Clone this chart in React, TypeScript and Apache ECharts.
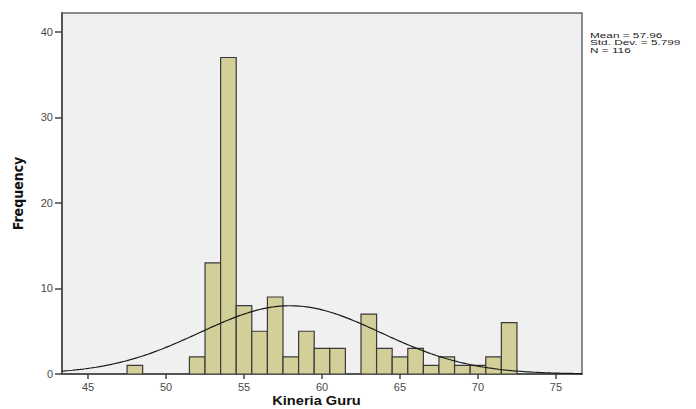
import React, { useEffect, useRef } from "react";
import * as echarts from "echarts";

const binCenters = [48, 52, 53, 54, 55, 56, 57, 58, 59, 60, 61, 63, 64, 65, 66, 67, 68, 69, 70, 71, 72];
const frequencies = [1, 2, 13, 37, 8, 5, 9, 2, 5, 3, 3, 7, 3, 2, 3, 1, 2, 1, 1, 2, 6];
const xTicks = [45, 50, 55, 60, 65, 70, 75];
const yTicks = [0, 10, 20, 30, 40];
const statLines = ["Mean = 57.96", "Std. Dev. = 5.799", "N = 116"];
const xTitle = "Kineria Guru";
const yTitle = "Frequency";
const MEAN = 57.96;
const SD = 5.799;
const N = 116;
const BIN_WIDTH = 1;
const X_MIN = 43.33;
const X_MAX = 76.67;

function normalCurve(): number[][] {
  const pts: number[][] = [];
  const steps = 200;
  for (let i = 0; i <= steps; i++) {
    const x = X_MIN + ((X_MAX - X_MIN) * i) / steps;
    const z = (x - MEAN) / SD;
    const y = ((N * BIN_WIDTH) / (SD * Math.sqrt(2 * Math.PI))) * Math.exp(-0.5 * z * z);
    pts.push([x, y]);
  }
  return pts;
}

export default function App() {
  const ref = useRef<HTMLDivElement>(null);
  useEffect(() => {
    if (!ref.current) return;
    document.body.style.margin = "0";
    const chart = echarts.init(ref.current, undefined, { renderer: "svg" });
    const barData = binCenters.map((c, i) => [c, frequencies[i]]);
    chart.setOption({
      animation: false,
      backgroundColor: "#ffffff",
      textStyle: { fontFamily: "Liberation Sans, Arial, sans-serif" },
      grid: {
        left: 62,
        top: 13,
        right: 114,
        bottom: 35,
        outerBoundsMode: "none",
        containLabel: false,
        show: true,
        backgroundColor: "#f0f0f0",
        borderColor: "#666666",
        borderWidth: 1.5,
      },
      xAxis: {
        type: "value",
        min: X_MIN,
        max: X_MAX,
        splitLine: { show: false },
        axisLine: { show: true, onZero: false, lineStyle: { color: "#555555", width: 2 } },
        axisTick: { show: true, length: 5, customValues: xTicks, lineStyle: { color: "#444444", width: 1.5 } },
        axisLabel: {
          customValues: xTicks,
          color: "#4a4a4a",
          fontSize: 11,
          margin: 7,
          fontFamily: "Liberation Sans, Arial, sans-serif",
        },
      },
      yAxis: {
        type: "value",
        min: 0,
        max: 42.2,
        name: yTitle,
        nameLocation: "middle",
        nameRotate: 90,
        nameGap: 37,
        nameTextStyle: {
          fontFamily: "Liberation Sans Narrow, DejaVu Sans Condensed, sans-serif",
          fontWeight: "bold",
          fontSize: 14,
          color: "#111111",
        },
        splitLine: { show: false },
        axisLine: { show: true, lineStyle: { color: "#555555", width: 2 } },
        axisTick: { show: true, length: 7, customValues: yTicks, lineStyle: { color: "#444444", width: 1.5 } },
        axisLabel: {
          customValues: yTicks,
          color: "#4a4a4a",
          fontSize: 11,
          margin: 9,
          fontFamily: "Liberation Sans, Arial, sans-serif",
        },
      },
      series: [
        {
          type: "custom",
          name: "Frequency",
          data: barData,
          clip: true,
          renderItem: (params: any, api: any) => {
            const c = api.value(0);
            const v = api.value(1);
            const p0 = api.coord([c - BIN_WIDTH / 2, v]);
            const p1 = api.coord([c + BIN_WIDTH / 2, 0]);
            return {
              type: "rect",
              shape: { x: p0[0], y: p0[1], width: p1[0] - p0[0], height: p1[1] - p0[1] },
              style: { fill: "#d3cf98", stroke: "#3a3a3a", lineWidth: 1.2 },
            };
          },
          z: 2,
        },
        {
          type: "line",
          name: "Normal",
          data: normalCurve(),
          showSymbol: false,
          smooth: false,
          lineStyle: { color: "#1a1a1a", width: 1.2 },
          z: 3,
        },
      ],
      graphic: [
        ...statLines.map((t, i) => ({
          type: "text",
          x: 590,
          y: 31 + i * 7.6,
          scaleX: 1.55,
          style: {
            text: t,
            fontFamily: "Liberation Sans, Arial, sans-serif",
            fontSize: 7.6,
            verticalAlign: "top",
            fill: "#222222",
          },
        })),
        {
          type: "text",
          x: 316.5,
          y: 395,
          scaleX: 1.22,
          style: {
            text: xTitle,
            fontFamily: "Liberation Sans, Arial, sans-serif",
            fontWeight: "bold",
            fontSize: 12,
            align: "center",
            verticalAlign: "top",
            fill: "#111111",
          },
        },
      ],
    });
    return () => chart.dispose();
  }, []);
  return <div ref={ref} style={{ width: 696, height: 409 }} />;
}
